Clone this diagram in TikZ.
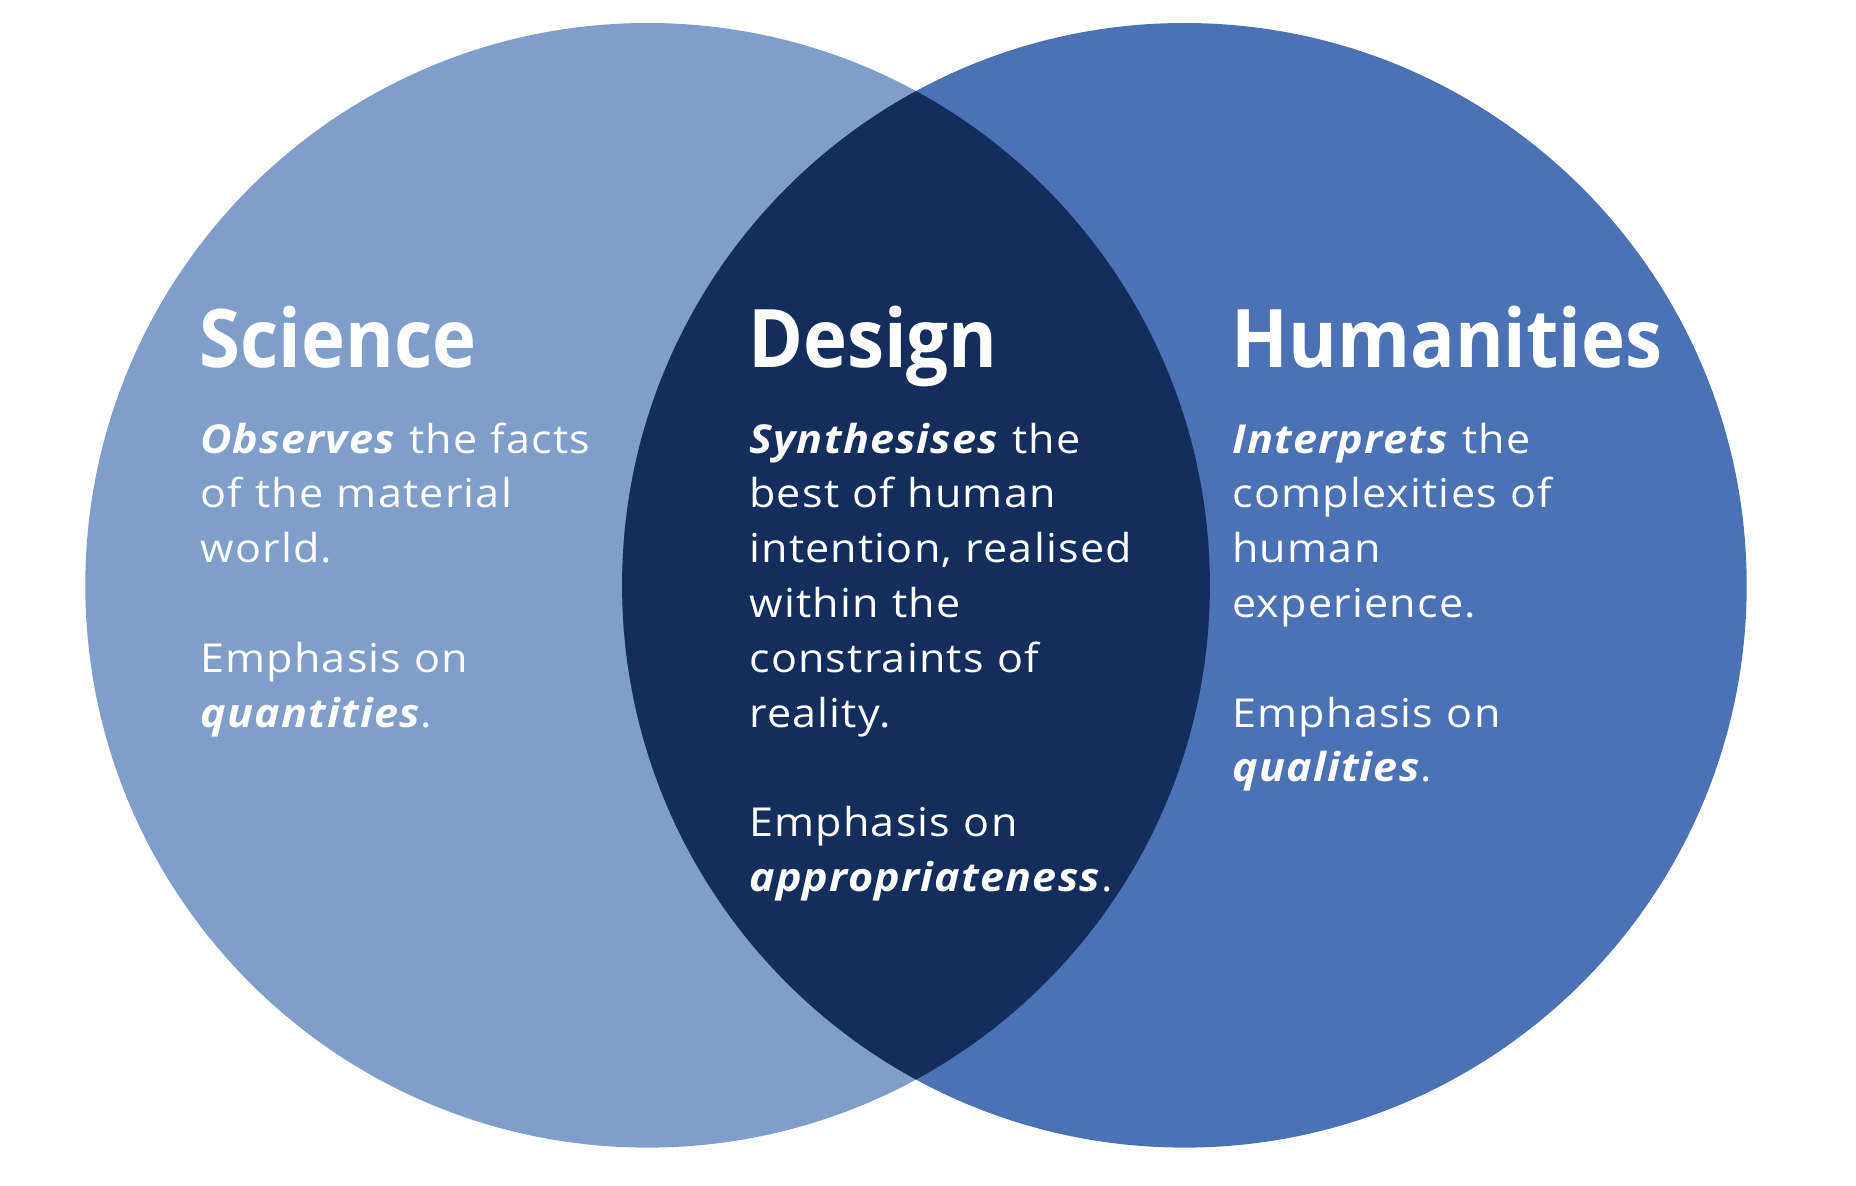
\documentclass[tikz,border=0pt]{standalone}
\usepackage{fontspec}
\setmainfont{Open Sans}
\newfontfamily\headfont[FakeStretch=0.92]{Open Sans}
\newfontfamily\bodyfont[FakeStretch=1.08, LetterSpace=3]{Open Sans}
\usepackage{tikz}
\usetikzlibrary{positioning}
\definecolor{ScienceBlue}{HTML}{7F9ECA}
\definecolor{HumanBlue}{HTML}{4A72B4}
\definecolor{DesignNavy}{HTML}{132D5C}

\begin{document}
\begin{tikzpicture}[x=0.02cm, y=-0.02cm,
  heading/.style={anchor=base west, inner sep=0pt, text=white, font=\headfont\fontsize{46}{56}\selectfont\bfseries},
  body/.style={anchor=base west, inner sep=0pt, text=white, align=left, text width=9.4cm, font=\bodyfont\fontsize{22.7}{31.2}\selectfont}]
  \useasboundingbox (0,0) rectangle (1856,1186);

  % the two fields
  \coordinate (sciC) at (647.6,585.3);
  \coordinate (humC) at (1184.4,585.3);
  \fill[ScienceBlue] (sciC) circle[radius=562.3];
  \fill[HumanBlue] (humC) circle[radius=562.3];
  \begin{scope}
    \clip (sciC) circle[radius=562.3];
    \fill[DesignNavy] (humC) circle[radius=562.3];
  \end{scope}

  % headings
  \node[heading] (science) at (199,367) {Science};
  \node[heading] (design) at (748,367) {Design};
  \node[heading] (humanities) at (1231,367) {Humanities};

  % descriptions
  \node[body] (scienceText) at (200,453) {\textbf{\textit{Observes}} the facts\\of the material\\world.\\[31.2pt]Emphasis on\\\textbf{\textit{quantities}}.};
  \node[body] (designText) at (749,453) {\textbf{\textit{Synthesises}} the\\best of human\\intention, realised\\within the\\constraints of\\reality.\\[31.2pt]Emphasis on\\\textbf{\textit{appropriateness}}.};
  \node[body] (humanitiesText) at (1232,453) {\textbf{\textit{Interprets}} the\\complexities of\\human\\experience.\\[31.2pt]Emphasis on\\\textbf{\textit{qualities}}.};
\end{tikzpicture}
\end{document}
